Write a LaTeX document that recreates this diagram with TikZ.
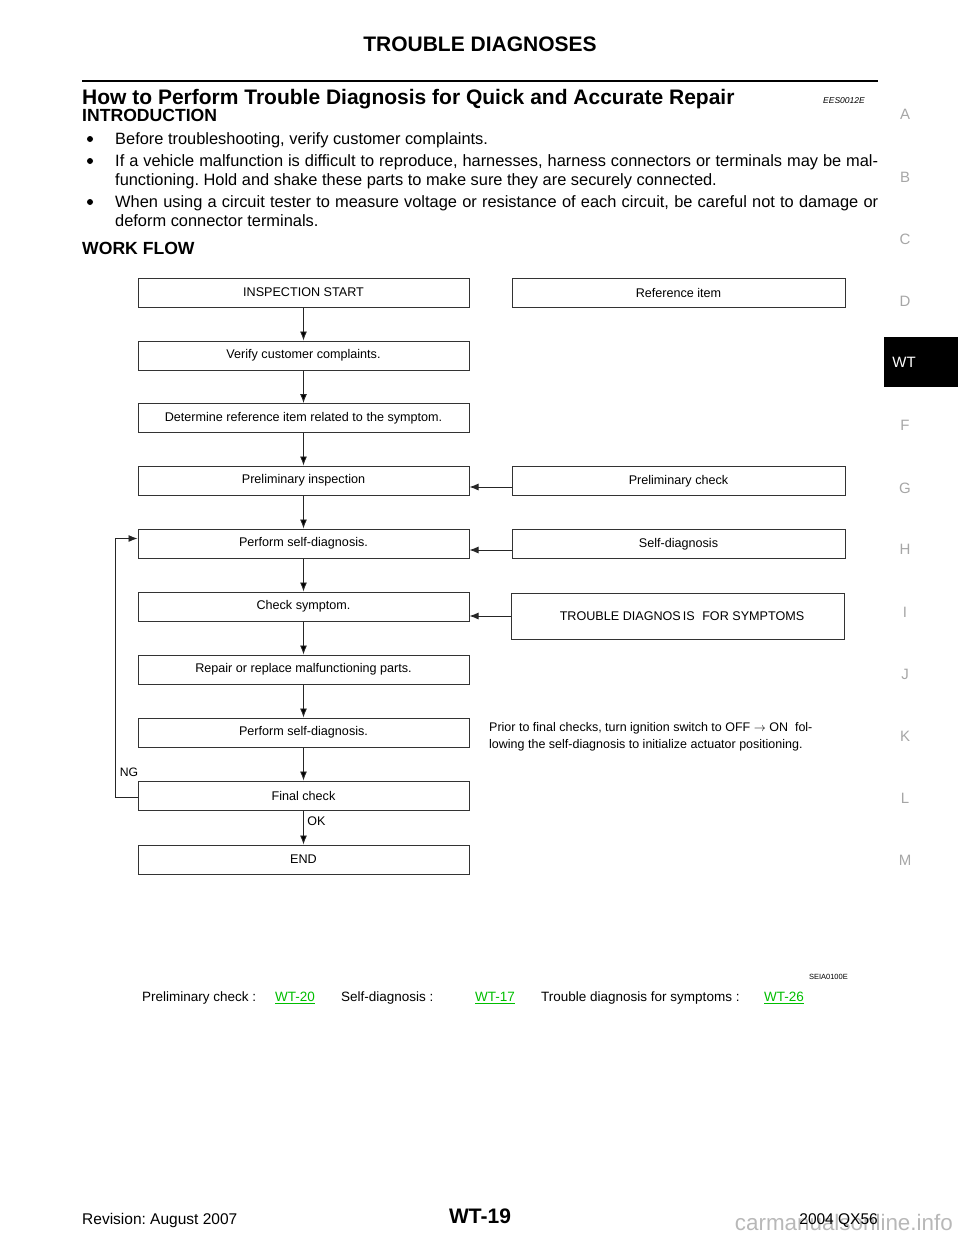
\documentclass[tikz,border=0pt]{standalone}
\usepackage{fontspec}
\setmainfont{Liberation Sans}
\usetikzlibrary{positioning}
\usetikzlibrary{calc}
\usetikzlibrary{arrows.meta}
\tikzset{
	flow/.style={-{Latex[length=9pt,width=7pt]},draw=black!85,line width=0.9pt},
	flowbox/.style={draw=black!80,line width=1pt,minimum width=331pt,minimum height=29pt,inner sep=0pt,font=\fontsize{12.6}{14}\selectfont},
	refbox/.style={flowbox,minimum width=333pt},
	sidetab/.style={font=\fontsize{15}{18}\selectfont,text=black!35},
	bodytext/.style={anchor=base west,inner sep=0pt,font=\fontsize{16.4}{19}\selectfont},
	headtext/.style={anchor=base west,inner sep=0pt,font=\fontsize{17.6}{20}\selectfont\bfseries},
	linktext/.style={anchor=base west,inner sep=0pt,font=\fontsize{13.5}{16}\selectfont},
	notetext/.style={anchor=base west,inner sep=0pt,font=\fontsize{12.5}{15}\selectfont}
}
\definecolor{linkgreen}{RGB}{0,190,0}
\frenchspacing
\begin{document}
\begin{tikzpicture}[x=1pt,y=-1pt]
	\useasboundingbox (0,0) rectangle (960,1242);
	
	\node[font=\fontsize{21}{24}\selectfont\bfseries,anchor=base,inner sep=0pt] (title) at (480,51.5) {TROUBLE DIAGNOSES};
	\draw[line width=2.6pt] (82,81) -- (878,81);
	\node[anchor=base west,inner sep=0pt,font=\fontsize{21}{24}\selectfont\bfseries] (howto) at (82,104) {How to Perform Trouble Diagnosis for Quick and Accurate Repair};
	\node[anchor=base east,inner sep=0pt,font=\fontsize{8.5}{10}\selectfont\itshape] (code) at (865,103) {EES0012E};
	\node[headtext] (intro) at (82,121.5) {INTRODUCTION};
	
	\fill (90,139) circle (3pt);
	\fill (90,161) circle (3pt);
	\fill (90,202) circle (3pt);
	\node[bodytext] (b1) at (115,144.5) {Before troubleshooting, verify customer complaints.};
	\node[bodytext] (b2) at (115,166.5) {\hbox to 763pt{If a vehicle malfunction is difficult to reproduce, harnesses, harness connectors or terminals may be mal-}};
	\node[bodytext] (b3) at (115,185.5) {functioning. Hold and shake these parts to make sure they are securely connected.};
	\node[bodytext] (b4) at (115,207.5) {\hbox to 763pt{When using a circuit tester to measure voltage or resistance of each circuit, be careful not to damage or}};
	\node[bodytext] (b5) at (115,226) {deform connector terminals.};
	\node[headtext] (workflow) at (82,254.5) {WORK FLOW};
	
	\node[flowbox] (start) at (303.5,292.5) {INSPECTION START};
	\node[flowbox] (verify) at (303.5,355.5) {Verify customer complaints.};
	\node[flowbox] (determ) at (303.5,418) {Determine reference item related to the symptom.};
	\node[flowbox] (prelim) at (303.5,480.5) {Preliminary inspection};
	\node[flowbox] (self1) at (303.5,543.5) {Perform self-diagnosis.};
	\node[flowbox] (symp) at (303.5,606.5) {Check symptom.};
	\node[flowbox] (repair) at (303.5,669.5) {Repair or replace malfunctioning parts.};
	\node[flowbox] (self2) at (303.5,732.5) {Perform self-diagnosis.};
	\node[flowbox] (final) at (303.5,795.5) {Final check};
	\node[flowbox] (finish) at (303.5,859.5) {END};
	
	\node[refbox] (refitem) at (678.5,292.5) {Reference item};
	\node[refbox] (prelimchk) at (678.5,481) {Preliminary check};
	\node[refbox] (selfdiag) at (678.5,544) {Self-diagnosis};
	\node[refbox,minimum height=46pt] (tdsym) at (678,616) {\hspace{8pt}TROUBLE DIAGNOS\hspace{2pt}IS\hspace{4pt} FOR SYMPTOMS};
	
	\path[flow] (start) edge (verify);
	\path[flow] (verify) edge (determ);
	\path[flow] (determ) edge (prelim);
	\path[flow] (prelim) edge (self1);
	\path[flow] (self1) edge (symp);
	\path[flow] (symp) edge (repair);
	\path[flow] (repair) edge (self2);
	\path[flow] (self2) edge (final);
	\path[flow] (final) edge node[right,font=\fontsize{12.5}{15}\selectfont,pos=0.3] {OK} (finish);
	
	\coordinate (pa) at ([yshift=-6pt]prelimchk.west);
	\coordinate (sa) at ([yshift=-6pt]selfdiag.west);
	\draw[flow] (pa) -- (pa -| prelim.east);
	\draw[flow] (sa) -- (sa -| self1.east);
	\draw[flow] (tdsym.west) -- (tdsym.west -| symp.east);
	\draw[flow] ([yshift=-1.5pt]final.west) -- ++(-22,0) |- ([yshift=5pt]self1.west);
	\node[font=\fontsize{12.2}{15}\selectfont] (ng) at (129,772) {NG};
	
	\node[notetext] (note1) at (489,731.5) {Prior to final checks, turn ignition switch to OFF $\rightarrow$ ON\ \ fol-};
	\node[notetext] (note2) at (489,748.5) {lowing the self-diagnosis to initialize actuator positioning.};
	
	\node[anchor=east,inner sep=0pt,font=\fontsize{7.5}{9}\selectfont] (seia) at (848,977) {SEIA0100E};
	\node[linktext] (l1) at (142,1001.5) {Preliminary check :};
	\node[linktext,text=linkgreen] (w1) at (275,1001.5) {\underline{WT-20}};
	\node[linktext] (l2) at (341,1001.5) {Self-diagnosis :};
	\node[linktext,text=linkgreen] (w2) at (475,1001.5) {\underline{WT-17}};
	\node[linktext] (l3) at (541,1001.5) {Trouble diagnosis for symptoms :};
	\node[linktext,text=linkgreen] (w3) at (764,1001.5) {\underline{WT-26}};
	
	\node[sidetab] (ta) at (905,114) {A};
	\node[sidetab] (tb) at (905,177) {B};
	\node[sidetab] (tc) at (905,239) {C};
	\node[sidetab] (td) at (905,301) {D};
	\fill (884,337) rectangle (958,387);
	\node[sidetab,text=white] (twt) at (904,362) {WT};
	\node[sidetab] (tf) at (905,425) {F};
	\node[sidetab] (tg) at (905,488) {G};
	\node[sidetab] (th) at (905,549) {H};
	\node[sidetab] (ti) at (905,612) {I};
	\node[sidetab] (tj) at (905,674) {J};
	\node[sidetab] (tk) at (905,736) {K};
	\node[sidetab] (tl) at (905,798) {L};
	\node[sidetab] (tm) at (905,860) {M};
	
	\node[anchor=base east,inner sep=0pt,font=\fontsize{22.4}{26}\selectfont,text=black!28] (mark) at (953,1230) {carmanualsonline.info};
	\node[anchor=base west,inner sep=0pt,font=\fontsize{15.5}{18}\selectfont] (rev) at (82,1224) {Revision: August 2007};
	\node[anchor=base,inner sep=0pt,font=\fontsize{21}{24}\selectfont\bfseries] (page) at (480,1223.5) {WT-19};
	\node[anchor=base east,inner sep=0pt,font=\fontsize{15.5}{18}\selectfont] (model) at (878,1224) {2004 QX56};
\end{tikzpicture}
\end{document}
